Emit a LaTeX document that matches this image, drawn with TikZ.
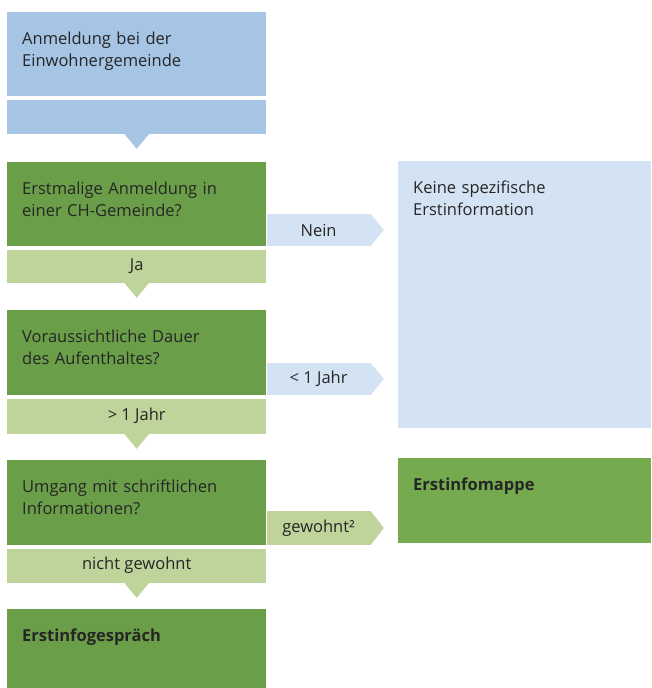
\documentclass[tikz,border=0pt]{standalone}
\usepackage{fontspec}
\setmainfont{Open Sans}
\usetikzlibrary{positioning}
\definecolor{blau}{RGB}{166,196,228}
\definecolor{hellblau}{RGB}{212,227,243}
\definecolor{gruen}{RGB}{106,158,72}
\definecolor{hellgruen}{RGB}{190,212,155}
\definecolor{mappengruen}{RGB}{118,170,78}

\begin{document}
\begin{tikzpicture}[x=1pt,y=-1pt,every node/.style={font=\fontsize{16.5}{22}\selectfont,inner sep=0pt,text=black!85},
  frage/.style={fill=gruen,anchor=north west,text width=229pt,inner xsep=15pt,align=left,text height=32pt},
  antwort/.style={fill=hellgruen,minimum width=259pt,minimum height=34pt},
  seite/.style={minimum width=104pt,minimum height=32pt,anchor=south west}]
\useasboundingbox (0,0) rectangle (651,688);
% linke Spalte
\node[frage,fill=blau,text depth=52pt] (anmeldung) at (7,12) {Anmeldung bei der\\Einwohnergemeinde};
\node[antwort,fill=blau,below=3pt of anmeldung] (anmstreifen) {};
\node[frage,text depth=52pt] (erstmalig) at (7,162) {Erstmalige Anmeldung in\\einer CH-Gemeinde?};
\node[antwort,minimum height=33pt,below=3pt of erstmalig] (ja) {Ja};
\node[frage,text depth=53pt] (dauer) at (7,310) {Voraussichtliche Dauer\\des Aufenthaltes?};
\node[antwort,minimum height=35pt,below=3pt of dauer] (lang) {> 1 Jahr};
\node[frage,text depth=53pt] (umgang) at (7,460) {Umgang mit schriftlichen\\Informationen?};
\node[antwort,below=3pt of umgang] (nichtgewohnt) {nicht gewohnt};
\node[frage,text depth=47pt,font=\fontsize{16.5}{22}\selectfont\bfseries] (gespraech) at (7,609) {Erstinfogespräch};
% rechte Spalte
\node[frage,fill=hellblau,text width=223pt,text depth=235pt] (keine) at (398,161) {Keine spezifische\\Erstinformation};
\node[frage,fill=mappengruen,text width=223pt,text depth=53pt,font=\fontsize{16.5}{22}\selectfont\bfseries] (mappe) at (398,458) {Erstinfomappe};
% Seitenpfeile
\node[seite,fill=hellblau] (nein) at (erstmalig.south east) {Nein};
\node[seite,fill=hellblau] (kurz) at (dauer.south east) {< 1 Jahr};
\node[seite,fill=hellgruen,minimum height=34pt] (gewohnt) at (umgang.south east) {gewohnt²};
\fill[hellblau] (nein.north east) -- ++(13,16) -- ++(-13,16) -- cycle;
\fill[hellblau] (kurz.north east) -- ++(13,16) -- ++(-13,16) -- cycle;
\fill[hellgruen] (gewohnt.north east) -- ++(13,17) -- ++(-13,17) -- cycle;
% Spitzen nach unten
\fill[blau] (anmstreifen.south) ++(-12.5,0) -- ++(12.5,15) -- ++(12.5,-15) -- cycle;
\foreach \s in {ja,lang,nichtgewohnt}
  \fill[hellgruen] (\s.south) ++(-12.5,0) -- ++(12.5,15) -- ++(12.5,-15) -- cycle;
\end{tikzpicture}
\end{document}
